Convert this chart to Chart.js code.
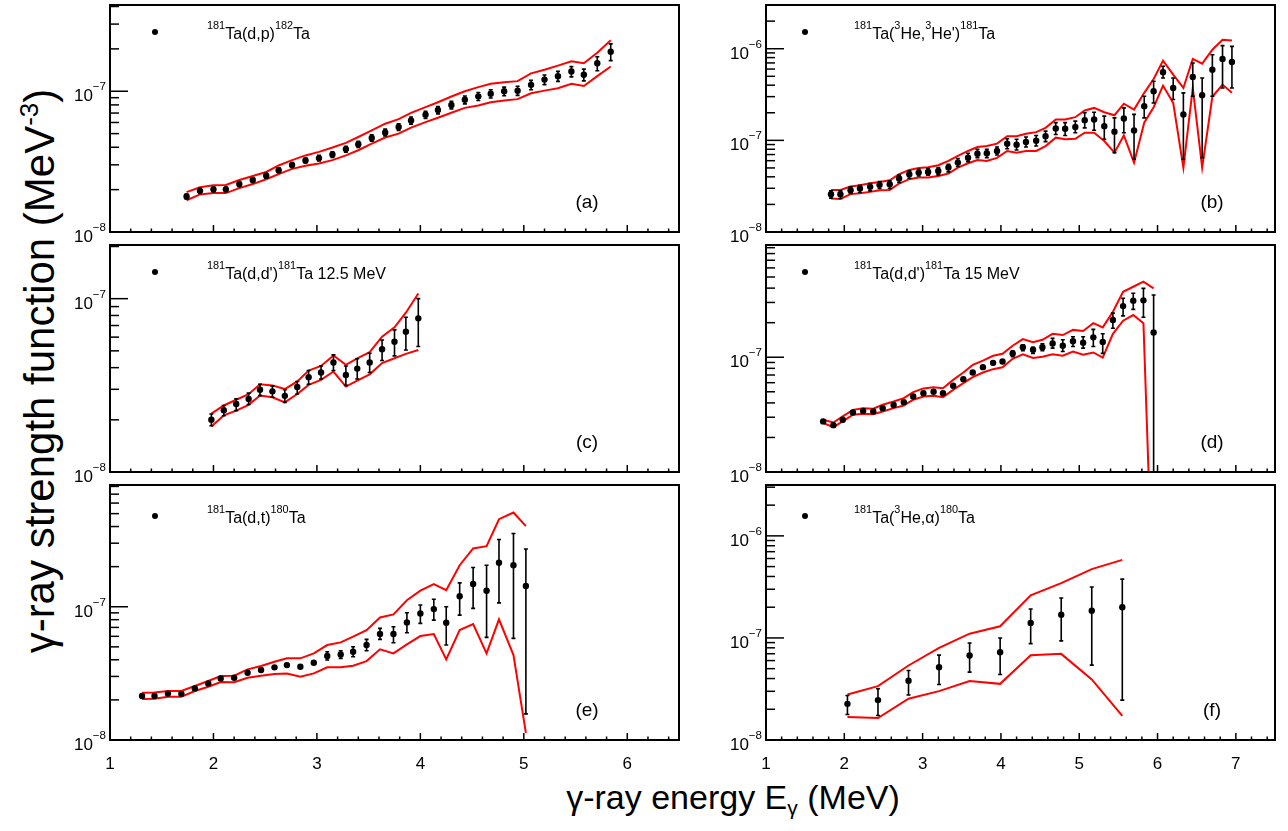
<!DOCTYPE html>
<html>
<head>
<meta charset="utf-8">
<script src="https://cdn.jsdelivr.net/npm/chart.js@4.4.1/dist/chart.umd.min.js"></script>
<style>
  body { margin: 0; background: #fff; width: 1288px; height: 831px; overflow: hidden; position: relative;
         font-family: "Liberation Sans", Arial, Helvetica, sans-serif; }
  canvas { position: absolute; left: 0; top: 0; }
  .title { position: absolute; white-space: nowrap; color: #000; line-height: 1; }
  .title sup, .title sub { font-size: 0.62em; line-height: 0; position: relative; vertical-align: baseline; }
  .title sup { top: -0.6em; }
  .title sub { top: 0.3em; }
  #ytitle { left: 40px; top: 371px; font-size: 42px; transform: translate(-50%, -50%) rotate(-90deg); }
  #xtitle { left: 733px; top: 797px; font-size: 34px; transform: translate(-50%, -50%); }
</style>
</head>
<body>
<div id="ytitle" class="title">γ-ray strength function (MeV<sup>-3</sup>)</div>
<div id="xtitle" class="title">γ-ray energy E<sub>γ</sub> (MeV)</div>
<script>
// all strength values below are in units of 1e-8 MeV^-3
const S = 1e-8;

// (a) 181Ta(d,p)182Ta
const aX = [1.74,1.87,2.00,2.12,2.25,2.38,2.51,2.63,2.76,2.89,3.02,3.15,3.28,3.40,3.53,3.66,3.79,3.91,4.05,4.17,4.30,4.43,4.56,4.68,4.81,4.94,5.07,5.20,5.33,5.46,5.58,5.71,5.84];
const aY = [1.79,1.96,2.01,2.01,2.19,2.34,2.51,2.75,2.99,3.22,3.35,3.55,3.88,4.20,4.66,5.10,5.57,6.20,6.80,7.35,8.00,8.70,9.20,9.60,10.0,10.1,11.1,12.1,12.8,13.8,13.1,15.8,19.1];
const aErr = [0.07,0.08,0.08,0.08,0.09,0.09,0.10,0.11,0.12,0.13,0.15,0.16,0.19,0.21,0.25,0.28,0.31,0.36,0.40,0.44,0.50,0.56,0.60,0.65,0.70,0.75,0.85,0.95,1.05,1.15,1.25,1.8,2.6];
const aUp = [1.92,2.08,2.15,2.16,2.34,2.50,2.67,2.97,3.24,3.50,3.71,3.98,4.30,4.73,5.27,5.88,6.34,7.03,7.71,8.36,9.17,10.0,10.7,11.3,11.6,11.8,13.4,14.2,15.2,16.3,15.8,18.8,23.0];
const aLo = [1.68,1.85,1.89,1.89,2.05,2.19,2.37,2.58,2.81,2.96,3.07,3.24,3.50,3.81,4.25,4.69,5.00,5.51,6.04,6.48,7.03,7.62,7.92,8.36,8.59,8.79,9.68,10.1,10.5,11.3,10.9,12.8,15.0];

// (b) 181Ta(3He,3He')181Ta
const bX = [1.83,1.95,2.08,2.20,2.33,2.45,2.58,2.70,2.83,2.95,3.07,3.20,3.33,3.45,3.58,3.70,3.82,3.95,4.08,4.20,4.32,4.45,4.57,4.70,4.82,4.95,5.07,5.19,5.32,5.45,5.57,5.70,5.83,5.95,6.07,6.20,6.33,6.45,6.57,6.70,6.83,6.95];
const bY = [2.59,2.59,2.86,2.98,3.11,3.27,3.32,3.83,4.26,4.45,4.52,4.64,5.05,5.72,6.48,7.16,7.22,7.66,9.20,8.97,9.59,9.92,11.1,13.5,13.4,14.0,16.6,16.9,14.3,12.4,17.3,12.8,23.6,34.3,55.3,37.3,19.2,49.2,31.1,59.1,77.2,71.6];
const bHi = [2.81,2.81,3.11,3.24,3.38,3.56,3.61,4.17,4.64,4.84,4.92,5.05,5.48,6.32,7.23,7.98,7.98,8.47,10.4,10.3,10.9,11.3,12.6,15.6,15.6,16.2,20.0,20.3,18.4,17.6,22.6,19.2,30.3,44.2,64.3,48.0,33.0,69.8,48.0,86.1,108,106];
const bLo = [2.34,2.32,2.63,2.70,2.81,2.98,2.98,3.47,3.86,4.09,4.17,4.20,4.53,5.18,5.86,6.48,6.48,6.93,8.11,7.85,8.47,8.67,9.68,11.6,11.3,12.1,13.7,12.9,10.3,7.35,12.1,6.21,17.6,25.6,48.0,27.9,6.21,30.3,6.48,30.3,37.3,37.3];
const bUp = [2.88,2.88,3.13,3.24,3.41,3.52,3.67,4.27,4.76,5.00,5.09,5.35,5.96,6.76,7.66,8.47,8.67,9.20,11.1,11.1,11.8,12.3,13.7,16.9,16.9,17.9,21.2,22.6,20.3,18.8,25.1,21.7,33.0,46.8,74.1,52.1,37.3,77.3,68.7,97.5,125,123];
const bDn = [2.32,2.29,2.59,2.65,2.74,2.86,2.88,3.38,3.77,3.93,3.93,4.09,4.35,5.05,5.62,6.11,5.96,6.43,7.66,7.35,7.66,7.66,8.67,10.7,10.3,10.4,12.1,12.1,9.84,7.35,11.3,5.71,15.6,23.0,39.6,25.6,5.05,37.3,5.05,29.9,40.6,33.0];

// (c) 181Ta(d,d')181Ta 12.5 MeV
const cX = [1.98,2.10,2.22,2.34,2.45,2.57,2.69,2.81,2.92,3.04,3.16,3.28,3.39,3.51,3.63,3.75,3.86,3.98];
const cY = [2.00,2.27,2.47,2.64,2.98,2.92,2.75,3.09,3.52,3.75,4.28,3.63,3.95,4.28,5.11,5.65,6.45,7.70];
const cHi = [2.16,2.42,2.64,2.85,3.21,3.14,2.98,3.33,3.85,4.09,4.74,4.09,4.50,4.84,5.78,6.61,7.82,10.0];
const cLo = [1.85,2.11,2.26,2.45,2.76,2.70,2.52,2.82,3.21,3.44,3.85,3.16,3.44,3.75,4.40,4.68,5.06,5.30];
const cUp = [2.17,2.42,2.61,2.81,3.21,3.16,3.01,3.33,3.85,4.09,4.70,4.15,4.53,4.91,6.04,6.84,8.30,10.7];
const cDn = [1.83,2.12,2.26,2.44,2.76,2.70,2.52,2.82,3.18,3.40,3.80,3.11,3.37,3.66,4.25,4.53,4.80,5.06];

// (d) 181Ta(d,d')181Ta 15 MeV
const dX = [1.73,1.86,1.98,2.11,2.24,2.37,2.49,2.63,2.76,2.88,3.01,3.14,3.26,3.39,3.52,3.64,3.77,3.90,4.02,4.15,4.28,4.41,4.53,4.66,4.79,4.92,5.05,5.18,5.30,5.43,5.56,5.69,5.82,5.95];
const dY = [2.76,2.56,2.85,3.30,3.41,3.37,3.60,3.83,4.06,4.55,4.86,5.00,4.86,5.64,6.44,7.36,8.19,8.93,9.17,10.8,12.2,11.6,12.2,13.2,12.6,13.8,13.4,14.9,13.6,21.1,27.9,31.1,31.3,16.4];
const dHi = [2.84,2.64,2.94,3.40,3.51,3.47,3.71,3.94,4.18,4.69,5.01,5.15,5.01,5.81,6.63,7.58,8.44,9.20,9.45,11.4,12.8,12.2,13.1,14.6,14.2,15.1,15.1,17.5,16.0,24.2,32.6,36.1,39.8,34.8];
const dLo = [2.68,2.48,2.76,3.20,3.31,3.27,3.49,3.72,3.94,4.41,4.71,4.85,4.71,5.47,6.25,7.14,7.94,8.66,8.89,10.1,11.4,10.8,11.4,12.0,11.2,12.4,12.0,12.4,10.8,17.9,22.9,26.1,22.3,0.05];
const dUp = [2.85,2.70,3.05,3.48,3.60,3.56,3.85,4.11,4.40,4.97,5.35,5.48,5.37,6.35,7.36,8.57,9.35,10.3,10.7,12.6,14.4,13.5,14.2,16.0,15.6,17.3,16.9,19.8,18.2,24.9,37.2,41.1,45.5,39.8];
const dDn = [2.67,2.46,2.76,3.16,3.21,3.19,3.37,3.60,3.80,4.26,4.55,4.61,4.49,5.20,5.94,6.70,7.36,7.87,8.18,9.68,10.6,9.87,10.1,10.6,10.3,11.2,10.5,11.0,9.94,16.0,20.8,23.3,19.8,0.05];

// (e) 181Ta(d,t)180Ta
const eX = [1.31,1.43,1.56,1.69,1.82,1.95,2.07,2.20,2.33,2.46,2.59,2.71,2.84,2.97,3.10,3.23,3.35,3.48,3.61,3.74,3.87,4.00,4.13,4.25,4.38,4.51,4.64,4.76,4.90,5.02];
const eY = [2.14,2.14,2.23,2.22,2.44,2.66,2.90,2.93,3.20,3.35,3.51,3.65,3.55,3.80,4.27,4.39,4.60,5.16,6.24,6.24,7.63,8.91,9.60,7.59,12.0,14.8,13.2,21.4,20.5,14.3];
const eHi = [2.19,2.19,2.29,2.28,2.50,2.73,2.97,3.00,3.28,3.43,3.60,3.74,3.64,3.90,4.60,4.68,5.01,5.69,6.88,7.08,9.02,10.3,11.4,10.0,15.1,19.7,20.5,32.0,35.5,27.1];
const eLo = [2.09,2.09,2.17,2.16,2.38,2.59,2.83,2.86,3.12,3.27,3.42,3.56,3.46,3.70,3.98,4.10,4.22,4.68,5.69,5.37,6.38,7.50,7.94,5.16,8.66,9.72,5.89,10.7,5.79,1.57];
const eUp = [2.26,2.27,2.33,2.33,2.54,2.77,3.02,3.04,3.39,3.59,3.87,4.10,4.10,4.47,5.16,5.40,5.96,6.68,8.32,8.76,11.2,13.2,14.8,13.3,20.5,27.4,28.5,45.4,51.0,40.3];
const eDn = [2.03,2.04,2.11,2.11,2.33,2.51,2.72,2.71,2.93,3.04,3.13,3.16,2.99,3.16,3.51,3.51,3.61,3.91,4.79,4.47,5.22,6.03,6.24,4.03,6.68,7.41,4.47,8.04,4.34,1.13];

// (f) 181Ta(3He,alpha)180Ta
const fX = [2.04,2.43,2.82,3.21,3.60,3.99,4.38,4.77,5.16,5.55];
const fY = [2.26,2.46,3.80,5.17,6.72,7.24,14.0,16.9,18.5,20.0];
const fHi = [2.73,3.18,4.80,6.78,8.93,10.0,19.2,24.6,31.5,37.7];
const fLo = [1.78,1.74,2.76,3.50,4.62,4.38,8.80,9.35,5.41,2.46];
const fUp = [2.79,3.37,5.37,7.98,11.0,13.0,26.1,34.4,47.2,58.2];
const fDn = [1.68,1.64,2.54,3.01,3.78,3.55,6.78,6.98,3.92,1.72];

// axis ranges (x in MeV, y top in units of 1e-8)
const xMaxLeft = 6.5, xMaxRight = 7.5;
const yTops = [41, 300, 20.4, 95, 82, 315];

const FONT = '"Liberation Sans", Arial, Helvetica, sans-serif';
const RED = '#ff0000';
const COLS = [[110, 679], [766, 1275]];
const ROWS = [[5, 232], [245, 472], [485, 740]];

function drawRich(ctx, str, x, y, size, align, raise) {
  const parts = str.split(/(\^\{[^}]*\}|_\{[^}]*\})/).filter(s => s.length).map(s => {
    if (s.startsWith('^{')) return { t: s.slice(2, -1), f: size * 0.68, dy: -size * raise };
    if (s.startsWith('_{')) return { t: s.slice(2, -1), f: size * 0.68, dy: size * 0.25 };
    return { t: s, f: size, dy: 0 };
  });
  let w = 0;
  parts.forEach(p => { ctx.font = p.f + 'px ' + FONT; p.w = ctx.measureText(p.t).width; w += p.w; });
  let cx = align === 'right' ? x - w : align === 'center' ? x - w / 2 : x;
  ctx.textAlign = 'left';
  ctx.textBaseline = 'alphabetic';
  parts.forEach(p => { ctx.font = p.f + 'px ' + FONT; ctx.fillText(p.t, cx, y + p.dy); cx += p.w; });
}

// error bars drawn from dataset values through the chart scales
const errorBars = {
  id: 'errorBars',
  afterDatasetsDraw(chart) {
    const { ctx, chartArea: a, scales: { x, y } } = chart;
    ctx.save();
    ctx.beginPath();
    ctx.rect(a.left, a.top, a.right - a.left, a.bottom - a.top);
    ctx.clip();
    ctx.strokeStyle = '#000';
    ctx.lineWidth = 1.6;
    chart.data.datasets.forEach(ds => {
      if (!ds.errHi) return;
      ds.data.forEach((pt, i) => {
        const px = x.getPixelForValue(pt.x);
        const yh = y.getPixelForValue(ds.errHi[i]);
        const yl = y.getPixelForValue(ds.errLo[i]);
        ctx.beginPath();
        ctx.moveTo(px, yh); ctx.lineTo(px, yl);
        ctx.moveTo(px - 2, yh); ctx.lineTo(px + 2, yh);
        ctx.moveTo(px - 2, yl); ctx.lineTo(px + 2, yl);
        ctx.stroke();
      });
    });
    ctx.restore();
  }
};

// ROOT-like frame, inner ticks, tick labels, legend entry and panel tag
const rootFrame = {
  id: 'rootFrame',
  afterDraw(chart, args, o) {
    const { ctx, chartArea: a, scales: { x, y } } = chart;
    ctx.save();
    ctx.strokeStyle = '#000';
    ctx.fillStyle = '#000';
    ctx.lineWidth = 1.5;
    const seg = (x0, y0, x1, y1) => { ctx.beginPath(); ctx.moveTo(x0, y0); ctx.lineTo(x1, y1); ctx.stroke(); };

    const e0 = Math.floor(Math.log10(y.min)), e1 = Math.ceil(Math.log10(y.max));
    for (let e = e0; e <= e1; e++) {
      for (let m = 1; m <= 9; m++) {
        const v = m * Math.pow(10, e);
        if (v < y.min * 0.999 || v > y.max * 1.001) continue;
        const py = y.getPixelForValue(v);
        seg(a.left, py, a.left + (m === 1 ? 18 : 9), py);
        if (m === 1) drawRich(ctx, '10^{\u2212' + (-e) + '}', a.left - 4, py + 10, 17, 'right', 0.65);
      }
    }

    for (let k = 0; ; k++) {
      const v = +(x.min + k * 0.2).toFixed(6);
      if (v > x.max + 1e-6) break;
      const px = x.getPixelForValue(v);
      const major = Math.abs(v - Math.round(v)) < 1e-6;
      seg(px, a.bottom, px, a.bottom - (major ? 7 : 3.5));
      if (major && o.xLabels) drawRich(ctx, String(Math.round(v)), px, a.bottom + 29, 17, 'center', 0);
    }

    ctx.lineWidth = 2;
    ctx.strokeRect(a.left, a.top, a.right - a.left, a.bottom - a.top);

    ctx.beginPath();
    ctx.arc(a.left + o.dotDx, a.top + o.dotDy, 3, 0, Math.PI * 2);
    ctx.fill();
    drawRich(ctx, o.legend, a.left + o.textDx, a.top + o.dotDy + 7, 16, 'left', 0.6);
    drawRich(ctx, o.tag, a.right - o.tagDx, a.bottom - 24, 19, 'center', 0);
    ctx.restore();
  }
};

const panels = [
  { col: 0, row: 0, x: aX, y: aY, hi: aY.map((v, i) => v + aErr[i]), lo: aY.map((v, i) => v - aErr[i]), up: aUp, dn: aLo,
    top: yTops[0], legend: '^{181}Ta(d,p)^{182}Ta', tag: '(a)' },
  { col: 1, row: 0, x: bX, y: bY, hi: bHi, lo: bLo, up: bUp, dn: bDn,
    top: yTops[1], legend: '^{181}Ta(^{3}He,^{3}He\')^{181}Ta', tag: '(b)' },
  { col: 0, row: 1, x: cX, y: cY, hi: cHi, lo: cLo, up: cUp, dn: cDn,
    top: yTops[2], legend: '^{181}Ta(d,d\')^{181}Ta 12.5 MeV', tag: '(c)' },
  { col: 1, row: 1, x: dX, y: dY, hi: dHi, lo: dLo, up: dUp, dn: dDn,
    top: yTops[3], legend: '^{181}Ta(d,d\')^{181}Ta 15 MeV', tag: '(d)' },
  { col: 0, row: 2, x: eX, y: eY, hi: eHi, lo: eLo, up: eUp, dn: eDn,
    top: yTops[4], legend: '^{181}Ta(d,t)^{180}Ta', tag: '(e)' },
  { col: 1, row: 2, x: fX, y: fY, hi: fHi, lo: fLo, up: fUp, dn: fDn,
    top: yTops[5], legend: '^{181}Ta(^{3}He,\u03B1)^{180}Ta', tag: '(f)' }
];

panels.forEach(p => {
  const cv = document.createElement('canvas');
  cv.width = 1288;
  cv.height = 831;
  document.body.appendChild(cv);
  const [fx0, fx1] = COLS[p.col];
  const [fy0, fy1] = ROWS[p.row];
  const pts = arr => p.x.map((v, i) => ({ x: v, y: arr[i] * S }));
  new Chart(cv, {
    type: 'scatter',
    data: {
      datasets: [
        { data: pts(p.y), backgroundColor: '#000', borderColor: '#000', pointRadius: 3.2, pointBorderWidth: 0,
          errHi: p.hi.map(v => v * S), errLo: p.lo.map(v => v * S) },
        { data: pts(p.up), showLine: true, borderColor: RED, borderWidth: 2, pointRadius: 0, fill: false },
        { data: pts(p.dn), showLine: true, borderColor: RED, borderWidth: 2, pointRadius: 0, fill: false }
      ]
    },
    options: {
      responsive: false,
      animation: false,
      events: [],
      layout: { padding: { left: fx0, right: 1288 - fx1, top: fy0, bottom: 831 - fy1 } },
      scales: {
        x: { type: 'linear', min: 1, max: p.col === 0 ? xMaxLeft : xMaxRight, display: false },
        y: { type: 'logarithmic', min: 1e-8, max: p.top * S, display: false }
      },
      plugins: {
        legend: { display: false },
        tooltip: { enabled: false },
        rootFrame: {
          legend: p.legend, tag: p.tag, xLabels: p.row === 2,
          dotDx: p.col === 0 ? 45 : 39, textDx: p.col === 0 ? 97 : 88,
          dotDy: p.row === 2 ? 31 : 27, tagDx: p.col === 0 ? 92 : 63
        }
      }
    },
    plugins: [errorBars, rootFrame]
  });
});
</script>
</body>
</html>
